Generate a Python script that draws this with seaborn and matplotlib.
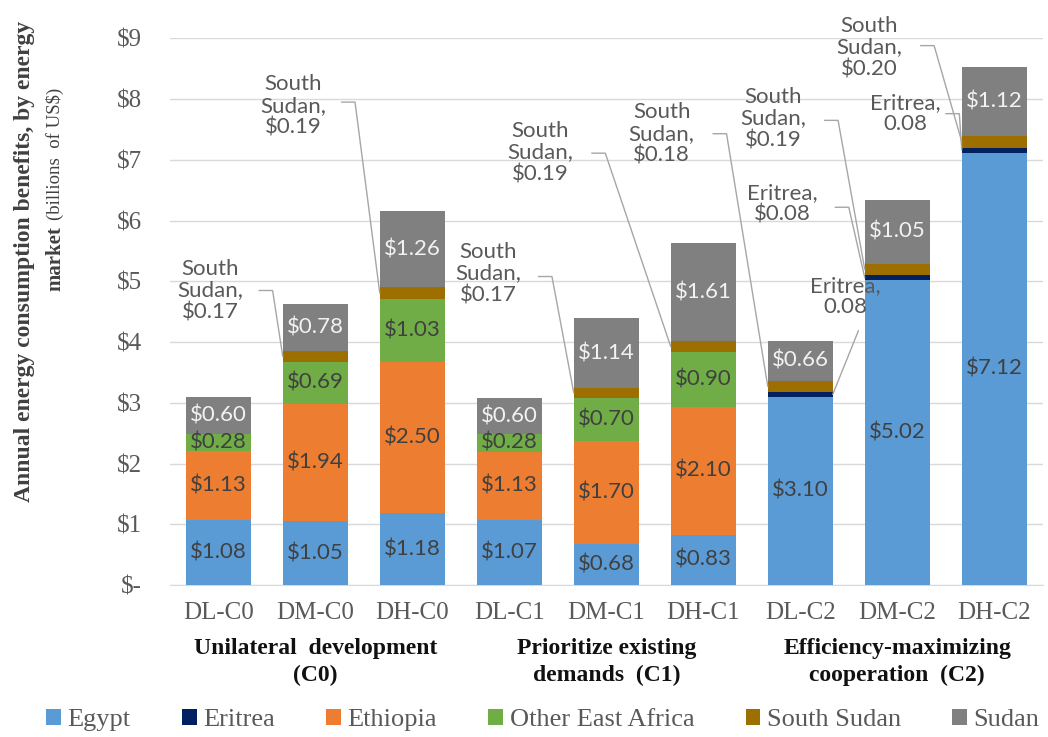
import matplotlib
matplotlib.use("Agg")
import matplotlib.pyplot as plt
import matplotlib.transforms as mtransforms
from matplotlib.patches import Patch
import numpy as np
import pandas as pd
import seaborn as sns

# ===== Data =====
scenarios = ["DL-C0", "DM-C0", "DH-C0", "DL-C1", "DM-C1", "DH-C1", "DL-C2", "DM-C2", "DH-C2"]
egypt = [1.08, 1.05, 1.18, 1.07, 0.68, 0.83, 3.10, 5.02, 7.12]
eritrea = [0, 0, 0, 0, 0, 0, 0.08, 0.08, 0.08]
ethiopia = [1.13, 1.94, 2.50, 1.13, 1.70, 2.10, 0, 0, 0]
other_east_africa = [0.28, 0.69, 1.03, 0.28, 0.70, 0.90, 0, 0, 0]
south_sudan = [0, 0.17, 0.19, 0, 0.17, 0.19, 0.18, 0.19, 0.20]
sudan = [0.60, 0.78, 1.26, 0.60, 1.14, 1.61, 0.66, 1.05, 1.12]

series_names = ["Egypt", "Eritrea", "Ethiopia", "Other East Africa", "South Sudan", "Sudan"]
group_labels = ["Unilateral  development\n(C0)", "Prioritize existing\ndemands  (C1)",
                "Efficiency-maximizing\ncooperation  (C2)"]

# ===== Style =====
colors = {"Egypt": "#5B9BD5", "Eritrea": "#002060", "Ethiopia": "#ED7D31",
          "Other East Africa": "#70AD47", "South Sudan": "#9C6F00", "Sudan": "#808080"}
serif = "Liberation Serif"
label_font = "Lato"

df = pd.DataFrame({"Egypt": egypt, "Eritrea": eritrea, "Ethiopia": ethiopia,
                   "Other East Africa": other_east_africa, "South Sudan": south_sudan,
                   "Sudan": sudan}, index=scenarios)
cum = df.cumsum(axis=1)
bottoms = cum - df

sns.set_style("white")
fig = plt.figure(figsize=(10.48, 7.37), dpi=100)
ax = fig.add_axes([0.162, 0.206, 0.833, 0.742])

bar_w = 0.67
# draw cumulative totals from top layer down so each layer covers the one above
for name in reversed(series_names):
    sns.barplot(x=scenarios, y=cum[name].values, color=colors[name], saturation=1,
                width=bar_w, linewidth=0, ax=ax, zorder=3)

ax.set_ylim(0, 9)
ax.set_xlim(-0.5, 8.5)
ax.set_yticks(range(10))
ax.set_yticklabels(["$-"] + [f"${i}" for i in range(1, 10)])
ax.yaxis.grid(True, color="#D9D9D9", linewidth=1, zorder=0)
ax.set_axisbelow(True)
for s in ["top", "right", "left"]:
    ax.spines[s].set_visible(False)
ax.spines["bottom"].set_color("#D9D9D9")
ax.tick_params(axis="both", length=0, labelsize=18, labelcolor="#595959")
ax.tick_params(axis="y", pad=20)
ax.tick_params(axis="x", pad=12)
for lab in ax.get_xticklabels() + ax.get_yticklabels():
    lab.set_fontfamily(serif)
ax.set_xlabel("")
ax.set_ylabel("")

# ===== In-bar value labels =====
for name in ["Egypt", "Ethiopia", "Other East Africa", "Sudan"]:
    for i, sc in enumerate(scenarios):
        v = df.loc[sc, name]
        if v <= 0:
            continue
        y = bottoms.loc[sc, name] + v / 2
        col = "#F2F2F2" if name == "Sudan" else "#404040"
        ax.text(i, y, f"${v:.2f}", ha="center", va="center", fontsize=16,
                family=label_font, color=col, zorder=5)

# ===== Callout labels with leader lines =====
# (text, text x, text y, leader x, leader y, bar index, series, bar side, elbow)
callouts = [
    ("South\nSudan,\n$0.17", -0.08, 4.85, 0.42, 4.85, 1, "South Sudan", -1, True),
    ("South\nSudan,\n$0.19", 0.77, 7.89, 1.27, 7.95, 2, "South Sudan", -1, True),
    ("South\nSudan,\n$0.17", 2.78, 5.13, 3.30, 5.08, 4, "South Sudan", -1, True),
    ("South\nSudan,\n$0.19", 3.32, 7.12, 3.85, 7.11, 5, "South Sudan", -1, True),
    ("South\nSudan,\n$0.18", 4.57, 7.43, 5.10, 7.43, 6, "South Sudan", -1, True),
    ("South\nSudan,\n$0.19", 5.72, 7.68, 6.25, 7.65, 7, "South Sudan", -1, True),
    ("Eritrea,\n$0.08", 5.82, 6.28, 6.36, 6.22, 7, "Eritrea", -1, True),
    ("Eritrea,\n0.08", 6.46, 4.75, 6.60, 4.19, 6, "Eritrea", 1, False),
    ("South\nSudan,\n$0.20", 6.71, 8.85, 7.24, 8.88, 8, "South Sudan", -1, True),
    ("Eritrea,\n0.08", 7.08, 7.76, 7.50, 7.76, 8, "Eritrea", -1, True),
]
for txt, tx, ty, lx, ly, bi, ser, side, elbow in callouts:
    ax.text(tx, ty, txt, ha="center", va="center", fontsize=16, family=label_font,
            color="#595959", linespacing=1.1, zorder=6)
    sc = scenarios[bi]
    target_x = bi + side * bar_w / 2
    target_y = bottoms.loc[sc, ser] + df.loc[sc, ser] / 2
    xs = [lx]
    ys = [ly]
    if elbow:
        xs.append(lx + 0.14)
        ys.append(ly)
    xs.append(target_x)
    ys.append(target_y)
    ax.plot(xs, ys, color="#A6A6A6", linewidth=1, zorder=4, clip_on=False)

# ===== Group labels =====
trans = mtransforms.blended_transform_factory(ax.transData, ax.transAxes)
for g, lab in enumerate(group_labels):
    ax.text(3 * g + 1, -0.140, lab, transform=trans, ha="center", va="center",
            fontsize=17, family=serif, fontweight="bold", color="#111111",
            linespacing=1.35)

# ===== Y-axis title =====
fig.text(25 / 1048, 1 - 502 / 737, "Annual energy consumption benefits, by energy",
         rotation=90, ha="center", va="bottom", fontsize=17, family=serif,
         fontweight="bold", color="#404040")
mk = fig.text(55 / 1048, 1 - 291 / 737, "market", rotation=90, ha="center", va="bottom",
              fontsize=15, family=serif, fontweight="bold", color="#404040")
fig.canvas.draw()
mk_top = mk.get_window_extent().y1 / fig.bbox.height
fig.text(55 / 1048, mk_top + 6 / 737, "(billions  of US$)", rotation=90, ha="center",
         va="bottom", fontsize=13.5, family=serif, color="#404040")

# ===== Legend =====
handles = [Patch(facecolor=colors[n], edgecolor="none") for n in series_names]
fig.legend(handles, series_names, loc="center", bbox_to_anchor=(0.518, 0.023), ncol=6,
           frameon=False, handlelength=0.55, handleheight=0.55, handletextpad=0.25,
           columnspacing=1.95, prop={"family": serif, "size": 19}, labelcolor="#595959")

fig.savefig("out.png", dpi=100)
